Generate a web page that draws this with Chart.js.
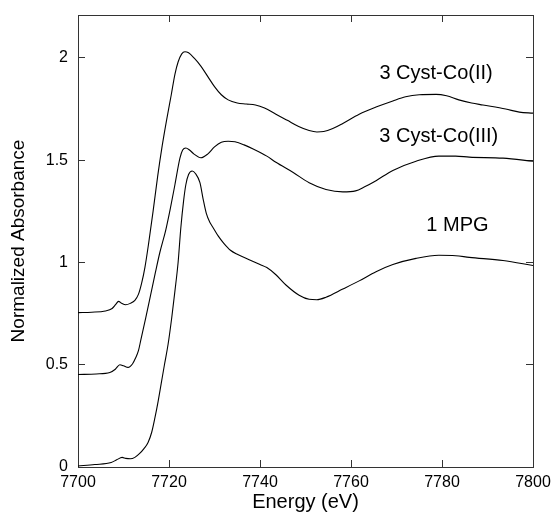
<!DOCTYPE html>
<html><head><meta charset="utf-8">
<script src="https://cdn.jsdelivr.net/npm/chart.js@4.4.1/dist/chart.umd.min.js"></script>
<style>html,body{margin:0;padding:0;background:#fff;}#wrap{width:552px;height:513px;}</style>
</head><body><div id="wrap"><canvas id="c" width="552" height="513"></canvas></div>
<script>
// Energy (eV) and normalized absorbance
const energyCo2 = [7700,7703,7706,7707.5,7708.3,7708.9,7709.6,7710.5,7711.5,7712.5,7713.3,7714,7714.7,7715.5,7716.5,7717.5,7718.5,7719.5,7720.5,7721.3,7722,7722.8,7723.5,7724.3,7725.5,7727,7728.5,7730,7731.5,7733,7735,7737,7739,7741,7743.5,7746,7748.5,7750.8,7752.5,7754,7756,7758.2,7761.8,7765.5,7769.2,7772,7775,7778.7,7781,7783.7,7786.5,7789,7794,7797,7800];
const absCo2 = [0.755,0.757,0.763,0.775,0.795,0.81,0.8,0.793,0.8,0.815,0.845,0.9,0.975,1.09,1.25,1.42,1.57,1.70,1.82,1.92,1.98,2.02,2.03,2.025,2.0,1.96,1.91,1.86,1.82,1.795,1.78,1.775,1.77,1.755,1.725,1.695,1.665,1.645,1.638,1.64,1.655,1.68,1.725,1.76,1.79,1.81,1.82,1.822,1.815,1.795,1.78,1.77,1.75,1.735,1.73];

const energyCo3 = [7700,7704,7707,7708.2,7709.2,7710,7711,7712,7712.7,7713.3,7713.8,7714.9,7716,7717,7718,7719.3,7720.3,7721.3,7722.4,7723,7723.7,7724.5,7725.5,7727,7728.5,7730,7731.5,7733,7734.5,7736.5,7738.5,7741.5,7743.5,7747.3,7750.8,7754.5,7758.2,7761,7763,7765.5,7769.2,7774.3,7779.3,7783,7786,7793.4,7800];
const absCo3 = [0.452,0.455,0.462,0.478,0.50,0.495,0.487,0.505,0.535,0.57,0.62,0.73,0.845,0.95,1.05,1.16,1.265,1.38,1.51,1.55,1.56,1.55,1.53,1.512,1.53,1.565,1.588,1.593,1.59,1.575,1.555,1.52,1.49,1.44,1.39,1.357,1.345,1.35,1.37,1.40,1.45,1.495,1.52,1.52,1.515,1.51,1.495];

const energyMpg = [7700,7703.7,7707.3,7708.5,7709.7,7710.5,7711.5,7712.5,7713.5,7714.5,7715.4,7716.2,7716.9,7717.6,7718.3,7719,7719.8,7720.6,7721.3,7722,7722.6,7723.2,7723.7,7724.3,7725.1,7725.8,7726.8,7727.5,7728.2,7729,7729.7,7730.8,7732,7733.5,7735,7737.5,7740,7741.5,7743.5,7745.7,7748.6,7750.8,7752.5,7754.5,7758.2,7761.8,7765.5,7769.2,7774.3,7779.3,7783,7786,7793.4,7800];
const absMpg = [0.005,0.012,0.022,0.035,0.047,0.042,0.04,0.047,0.065,0.09,0.12,0.17,0.24,0.32,0.41,0.5,0.60,0.73,0.86,1.0,1.17,1.3,1.38,1.43,1.447,1.435,1.39,1.31,1.24,1.195,1.17,1.13,1.095,1.06,1.04,1.015,0.99,0.975,0.94,0.89,0.84,0.82,0.818,0.83,0.87,0.91,0.955,0.99,1.02,1.035,1.033,1.025,1.01,0.985];

const xTicks = [7700,7720,7740,7760,7780,7800];
const yTicks = [0,0.5,1,1.5,2];
const yTickLabels = ['0','0.5','1','1.5','2'];
const seriesLabels = ['3 Cyst-Co(II)','3 Cyst-Co(III)','1 MPG'];
const labelEnergy = [7778.7,7779.3,7783.4];
const labelAbs = [1.924,1.614,1.183];

const FONT = '"Liberation Sans", Arial, Helvetica, sans-serif';
const toPts = (xs, ys) => xs.map((x, i) => ({x: x, y: ys[i]}));
const lineDs = (xs, ys) => ({data: toPts(xs, ys), borderColor: '#000', borderWidth: 1.1, pointRadius: 0, fill: false, cubicInterpolationMode: 'monotone'});

const gridOpts = {drawOnChartArea: false, drawTicks: true, tickLength: -7, color: '#333', lineWidth: 1};
const borderOpts = {display: true, color: '#333', width: 1};
const noPad = s => { s.paddingLeft = 0; s.paddingRight = 0; s.paddingTop = 0; s.paddingBottom = 0; };

const labelPlugin = {
  id: 'seriesLabels',
  afterDatasetsDraw(chart) {
    const {ctx, scales} = chart;
    ctx.save();
    ctx.font = '20px ' + FONT;
    ctx.fillStyle = '#000';
    ctx.textAlign = 'center';
    ctx.textBaseline = 'middle';
    seriesLabels.forEach((t, i) => {
      ctx.fillText(t, scales.x.getPixelForValue(labelEnergy[i]), scales.y.getPixelForValue(labelAbs[i]));
    });
    ctx.restore();
  }
};

new Chart(document.getElementById('c'), {
  type: 'line',
  data: {datasets: [lineDs(energyCo2, absCo2), lineDs(energyCo3, absCo3), lineDs(energyMpg, absMpg)]},
  options: {
    responsive: false,
    animation: false,
    devicePixelRatio: 1,
    layout: {padding: {left: 0, right: 19, top: 15, bottom: 0}, autoPadding: false},
    plugins: {legend: {display: false}, tooltip: {enabled: false}},
    scales: {
      x: {
        type: 'linear', position: 'bottom', min: 7700, max: 7800,
        afterBuildTicks: s => { s.ticks = xTicks.map(v => ({value: v})); },
        afterFit: s => { s.height = 46; noPad(s); },
        ticks: {color: '#000', font: {family: FONT, size: 16}, padding: 13, maxRotation: 0, autoSkip: false, callback: v => String(v)},
        grid: gridOpts, border: borderOpts,
        title: {display: true, text: 'Energy (eV)', color: '#000', font: {family: FONT, size: 20, lineHeight: 1}, padding: {top: 0, bottom: 1}}
      },
      x2: {
        type: 'linear', position: 'top', min: 7700, max: 7800,
        afterBuildTicks: s => { s.ticks = xTicks.map(v => ({value: v})); },
        afterFit: s => { s.height = 0; noPad(s); },
        ticks: {display: false},
        grid: gridOpts, border: borderOpts
      },
      y: {
        type: 'linear', position: 'left', min: 0, max: 2.21,
        afterBuildTicks: s => { s.ticks = yTicks.map(v => ({value: v})); },
        afterFit: s => { s.width = 78; noPad(s); },
        ticks: {color: '#000', font: {family: FONT, size: 16}, padding: 17, autoSkip: false, callback: (v, i) => yTickLabels[i]},
        grid: gridOpts, border: borderOpts,
        title: {display: true, text: 'Normalized Absorbance', color: '#000', font: {family: FONT, size: 19, lineHeight: 1}, padding: {top: 9, bottom: 0}}
      },
      y2: {
        type: 'linear', position: 'right', min: 0, max: 2.21,
        afterBuildTicks: s => { s.ticks = yTicks.map(v => ({value: v})); },
        afterFit: s => { s.width = 0; noPad(s); },
        ticks: {display: false},
        grid: gridOpts, border: borderOpts
      }
    }
  },
  plugins: [labelPlugin]
});
</script></body></html>
